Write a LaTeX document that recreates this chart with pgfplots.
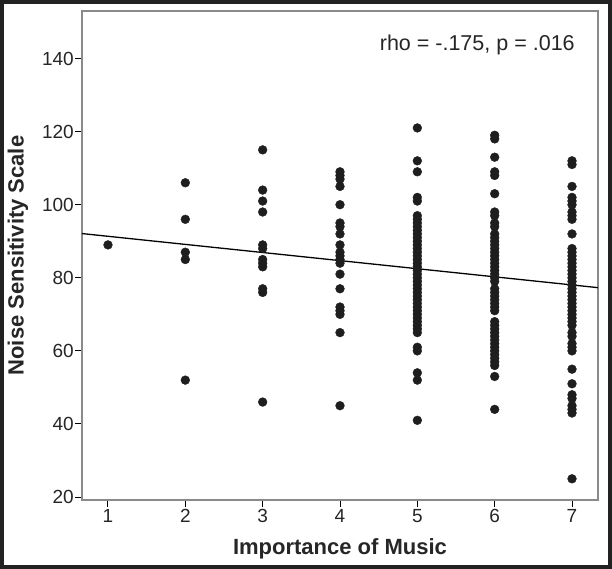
\documentclass[border=0pt]{standalone}
\usepackage{fontspec}
\setmainfont{Liberation Sans}
\usepackage{pgfplots}
\pgfplotsset{compat=1.18}
\definecolor{dotc}{HTML}{1E1E1E}
\definecolor{framec}{HTML}{222222}
\definecolor{boxc}{HTML}{8A8A8A}
\begin{document}
\begin{tikzpicture}[x=1pt,y=1pt]
\path[use as bounding box] (0,0) rectangle (612,569);
\fill[white] (0,0) rectangle (612,569);
\draw[framec, line width=4pt] (2,2) rectangle (610,567);
\begin{axis}[
  at={(82pt,69pt)}, anchor=south west,
  scale only axis, width=516pt, height=489pt,
  xmin=0.664, xmax=7.336, ymin=19.2, ymax=153,
  xtick={1,2,3,4,5,6,7}, ytick={20,40,60,80,100,120,140},
  axis line style={boxc, line width=1.2pt},
  tick style={black, line width=1pt},
  major tick length=7pt, tick align=outside,
  xtick pos=bottom, ytick pos=left,
  /pgf/number format/assume math mode=true,
  ticklabel style={font=\fontsize{19}{22}\selectfont, text=black!85},
  yticklabel style={inner sep=1pt},
  xticklabel style={inner sep=2pt},
  xlabel={\textbf{Importance of Music}},
  ylabel={\textbf{Noise Sensitivity Scale}},
  label style={font=\fontsize{22}{26}\selectfont, text=black!85},
  xlabel style={at={(axis description cs:0.5,-0.1)}, anchor=center},
  ylabel style={at={(axis description cs:-0.124,0.5)}, anchor=center},
  clip=false,
]
\addplot[only marks, mark=*, mark size=4.4pt, mark options={fill=dotc, draw=dotc}] table {
x y
1 89
2 106
2 96
2 87
2 85
2 52
3 115
3 104
3 101
3 98
3 89
3 88
3 85
3 84
3 83
3 77
3 76
3 46
4 109
4 108
4 107
4 105
4 100
4 95
4 94
4 92
4 89
4 87
4 86
4 85
4 84
4 81
4 77
4 72
4 71
4 70
4 65
4 45
5 121
5 112
5 109
5 102
5 101
5 97
5 96
5 95
5 94
5 93
5 92
5 91
5 90
5 89
5 88
5 87
5 86
5 85
5 84
5 83
5 82
5 81
5 80
5 79
5 78
5 77
5 76
5 75
5 74
5 73
5 72
5 71
5 70
5 69
5 68
5 67
5 66
5 65
5 61
5 60
5 54
5 52
5 41
6 119
6 118
6 113
6 109
6 108
6 103
6 98
6 97
6 95
6 94
6 92
6 91
6 90
6 89
6 88
6 87
6 86
6 85
6 84
6 83
6 82
6 81
6 80
6 79
6 77
6 76
6 75
6 74
6 73
6 72
6 71
6 68
6 67
6 66
6 65
6 64
6 63
6 62
6 61
6 60
6 59
6 58
6 57
6 56
6 53
6 44
7 112
7 111
7 105
7 102
7 101
7 100
7 98
7 97
7 96
7 92
7 88
7 87
7 86
7 85
7 84
7 83
7 82
7 81
7 80
7 79
7 78
7 77
7 76
7 75
7 74
7 73
7 72
7 71
7 70
7 69
7 68
7 67
7 65
7 64
7 62
7 61
7 60
7 55
7 51
7 48
7 47
7 45
7 44
7 43
7 25
};
\addplot[black, line width=1.3pt] coordinates {(0.664,92.1) (7.336,77.3)};
\node[font=\fontsize{21.5}{25}\selectfont, text=black!85, anchor=center] at (rel axis cs:0.766,0.93) {rho = -.175, p = .016};
\end{axis}
\end{tikzpicture}
\end{document}
